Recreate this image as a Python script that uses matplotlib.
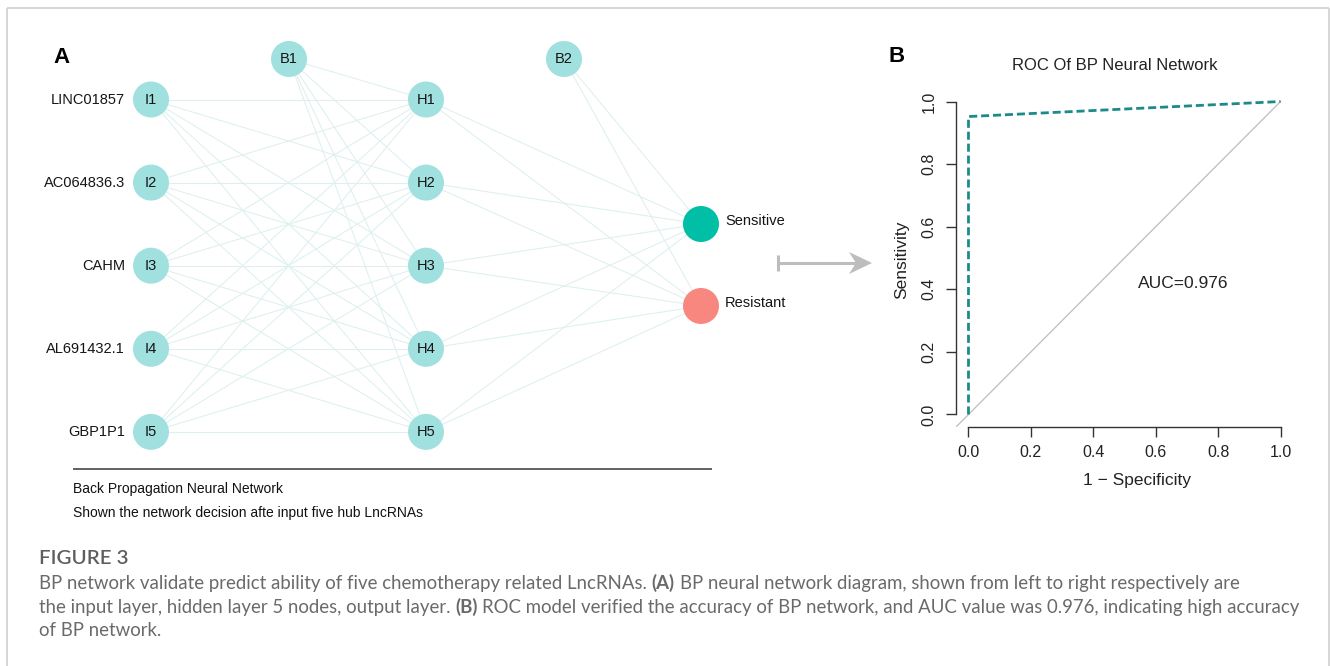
import matplotlib
matplotlib.use('Agg')
import matplotlib.pyplot as plt
from matplotlib.patches import Circle, Polygon
from matplotlib import font_manager
import numpy as np

plt.rcParams['font.family'] = ['Liberation Sans', 'DejaVu Sans']

# network structure
input_genes = ['LINC01857', 'AC064836.3', 'CAHM', 'AL691432.1', 'GBP1P1']
input_names = ['I1', 'I2', 'I3', 'I4', 'I5']
hidden_names = ['H1', 'H2', 'H3', 'H4', 'H5']
bias_names = ['B1', 'B2']
output_names = ['Sensitive', 'Resistant']
output_colors = ['#00bfa6', '#f8877f']

# ROC curve of the BP network
roc_fpr = [0.0, 0.0, 1.0]
roc_tpr = [0.0, 0.952, 1.0]
auc_value = 0.976
roc_ticks = [0.0, 0.2, 0.4, 0.6, 0.8, 1.0]

note_lines = ['Back Propagation Neural Network',
              'Shown the network decision afte input five hub LncRNAs']
caption_title = 'FIGURE 3'
caption_runs = [
    [('BP network validate predict ability of five chemotherapy related LncRNAs.', 'normal'),
     ('(A)', 'bold'),
     ('BP neural network diagram, shown from left to right respectively are', 'normal')],
    [('the input layer, hidden layer 5 nodes, output layer.', 'normal'),
     ('(B)', 'bold'),
     ('ROC model verified the accuracy of BP network, and AUC value was 0.976, indicating high accuracy', 'normal')],
    [('of BP network.', 'normal')],
]

W, H = 1330, 666
fig = plt.figure(figsize=(W / 100, H / 100), dpi=100)
fig.patch.set_facecolor('white')

# pixel-space canvas for the diagram, frame and caption
canvas = fig.add_axes([0, 0, 1, 1])
canvas.set_xlim(0, W)
canvas.set_ylim(H, 0)
canvas.axis('off')

frame_kw = dict(color='#cfcfcf', lw=1.2, solid_capstyle='butt')
canvas.plot([6.5, 6.5], [H, 7.5], **frame_kw)
canvas.plot([6.5, 1328.5], [7.5, 7.5], **frame_kw)
canvas.plot([1328.5, 1328.5], [7.5, H], **frame_kw)

# --- panel A: network diagram ---
x_in, x_b1, x_hid, x_b2, x_out = 151, 289, 426, 564, 701
row_y = 99.5 + 83.1 * np.arange(len(input_names))
bias_y = 59
out_y = [224, 306]
r = 18
node_fc = '#a0e1e0'
edge_kw = dict(color='#ddf0ef', lw=0.75, zorder=1)

for yi in row_y:
    for yh in row_y:
        canvas.plot([x_in, x_hid], [yi, yh], **edge_kw)
for yh in row_y:
    canvas.plot([x_b1, x_hid], [bias_y, yh], **edge_kw)
    for yo in out_y:
        canvas.plot([x_hid, x_out], [yh, yo], **edge_kw)
for yo in out_y:
    canvas.plot([x_b2, x_out], [bias_y, yo], **edge_kw)

def node(x, y, label, fc):
    canvas.add_patch(Circle((x, y), r, fc=fc, ec='none', zorder=3))
    if label:
        canvas.text(x, y, label, ha='center', va='center', fontsize=10.5,
                    color='#151515', zorder=4)

for yi, nm, gene in zip(row_y, input_names, input_genes):
    node(x_in, yi, nm, node_fc)
    canvas.text(x_in - 26, yi, gene, ha='right', va='center', fontsize=10.5, color='#151515')
for yh, nm in zip(row_y, hidden_names):
    node(x_hid, yh, nm, node_fc)
node(x_b1, bias_y, bias_names[0], node_fc)
node(x_b2, bias_y, bias_names[1], node_fc)
for yo, nm, c in zip(out_y, output_names, output_colors):
    node(x_out, yo, None, c)
    canvas.text(x_out + 24, yo - 3, nm, ha='left', va='center', fontsize=10.5, color='#151515')

canvas.text(53, 63, 'A', fontsize=16, fontweight='bold', ha='left', va='baseline')
canvas.text(889, 62, 'B', fontsize=16, fontweight='bold', ha='left', va='baseline')

canvas.plot([73, 712], [469, 469], color='#555555', lw=1.3, solid_capstyle='butt')
narrow = 'Liberation Sans'
names = {f.name for f in font_manager.fontManager.ttflist}
if 'Liberation Sans Narrow' in names:
    narrow = 'Liberation Sans Narrow'
for yy, line in zip([489, 513], note_lines):
    canvas.text(73, yy, line, ha='left', va='center', fontsize=11 if narrow != 'Liberation Sans' else 10,
                family=narrow, color='#111111')

# arrow between panels
arrow_c = '#bdbdbd'
canvas.plot([778, 858], [263, 263], color=arrow_c, lw=2.2, solid_capstyle='butt')
canvas.plot([778, 778], [255, 271], color=arrow_c, lw=2.2, solid_capstyle='butt')
canvas.add_patch(Polygon([[872, 263], [849, 252], [856, 263], [849, 274]],
                         closed=True, fc=arrow_c, ec='none'))

# --- panel B: ROC ---
ax = fig.add_axes([956 / W, (H - 427) / H, (1293 - 956) / W, (427 - 89) / H])
ax.set_xlim(-0.04, 1.04)
ax.set_ylim(-0.04, 1.04)
ax.patch.set_alpha(0)
ax.plot([-0.04, 1.0], [-0.04, 1.0], color='#bdbdbd', lw=0.9)
ax.plot(roc_fpr, roc_tpr, color='#1d8a8a', lw=2.0, linestyle=(0, (2.9, 1.4)))
for s in ['top', 'right']:
    ax.spines[s].set_visible(False)
for s in ['left', 'bottom']:
    ax.spines[s].set_bounds(0, 1)
    ax.spines[s].set_linewidth(1.0)
    ax.spines[s].set_color('#333333')
ax.set_xticks(roc_ticks)
ax.set_yticks(roc_ticks)
ax.set_xticklabels([f'{t:.1f}' for t in roc_ticks])
ax.set_yticklabels([f'{t:.1f}' for t in roc_ticks])
ax.tick_params(direction='out', length=7, width=1.0, color='#333333',
               labelsize=11.5, labelcolor='#222222')
ax.tick_params(axis='x', pad=6)
ax.tick_params(axis='y', pad=7, labelrotation=90)
for lbl in ax.get_yticklabels():
    lbl.set_va('center')

ax.set_title('ROC Of BP Neural Network', fontsize=12, x=0.472, y=1.071,
             va='center', color='#222222', pad=0)
ax.set_xlabel('1 \u2212 Specificity', fontsize=12.5, color='#222222')
ax.xaxis.set_label_coords(0.537, -0.157)
ax.xaxis.label.set_va('center')
ax.set_ylabel('Sensitivity', fontsize=12.5, color='#222222')
ax.yaxis.set_label_coords(-0.16, 0.494)
ax.yaxis.label.set_va('center')
ax.text(0.687, 0.42, f'AUC={auc_value:.3f}', ha='center', va='center',
        fontsize=12.5, color='#222222')

# --- caption ---
cap_color = '#6a6a6a'
cap_font = ['Lato', 'DejaVu Sans']
renderer = fig.canvas.get_renderer()

def text_width(s, size, weight='normal'):
    t = canvas.text(0, 0, s, fontsize=size, family=cap_font, fontweight=weight)
    w = t.get_window_extent(renderer=renderer).width
    t.remove()
    return w

def line_width(runs, size):
    gap = text_width('x x', size) - text_width('xx', size)
    return sum(text_width(s, size, wt) for s, wt in runs) + gap * (len(runs) - 1)

# size the caption so the second line spans the frame width
cap_size = 12.0
cap_size *= (1295 - 39) / line_width(caption_runs[1], cap_size)

canvas.text(39, 558, caption_title, fontsize=cap_size * 1.1, family=cap_font,
            fontweight='semibold', color='#5e5e5e', ha='left', va='center')
gap = text_width('x x', cap_size) - text_width('xx', cap_size)
for yy, runs in zip([583, 607, 631], caption_runs):
    x = 39
    for s, wt in runs:
        canvas.text(x, yy, s, fontsize=cap_size, family=cap_font, fontweight=wt,
                    color=cap_color, ha='left', va='center')
        x += text_width(s, cap_size, wt) + gap

fig.savefig('out.png', dpi=100, facecolor='white')
